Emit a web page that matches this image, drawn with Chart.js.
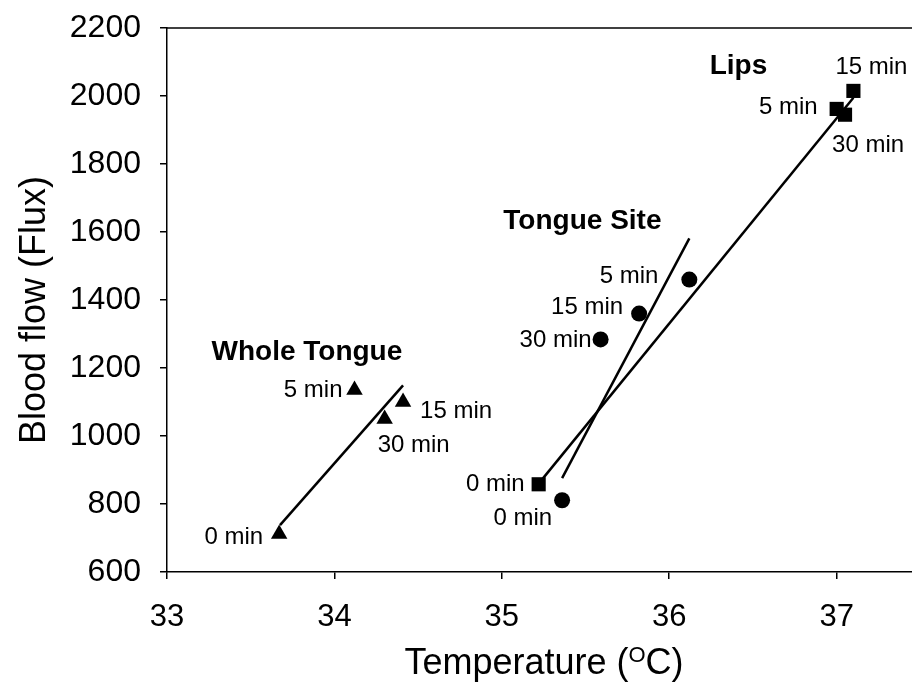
<!DOCTYPE html>
<html>
<head>
<meta charset="utf-8">
<script src="https://cdn.jsdelivr.net/npm/chart.js@4"></script>
<style>
    html, body { margin: 0; padding: 0; background: #fff; }
    #wrap { width: 912px; height: 688px; }
</style>
</head>
<body>
<div id="wrap"><canvas id="flowChart" width="912" height="688"></canvas></div>
<script>
// Data
const timeLabels = ['0 min', '5 min', '15 min', '30 min'];

const wholeTongueTemp = [33.67, 34.12, 34.41, 34.30];
const wholeTongueFlow = [712, 1135, 1100, 1050];

const tongueSiteTemp = [35.36, 36.12, 35.82, 35.59];
const tongueSiteFlow = [811, 1460, 1360, 1284];

const lipsTemp = [35.22, 37.00, 37.10, 37.05];
const lipsFlow = [858, 1962, 2015, 1945];

// fitted lines (end points)
const wholeTongueFitTemp = [33.675, 34.41];
const wholeTongueFitFlow = [738, 1149];
const tongueSiteFitTemp = [35.36, 36.12];
const tongueSiteFitFlow = [876, 1581];
const lipsFitTemp = [35.22, 37.10];
const lipsFitFlow = [860, 1995];

const groupNames = ['Whole Tongue', 'Tongue Site', 'Lips'];
const xTicks = [33, 34, 35, 36, 37];
const yTicks = [600, 800, 1000, 1200, 1400, 1600, 1800, 2000, 2200];

const FONT = 'Liberation Sans, Arial, sans-serif';

function toPoints(xs, ys) {
    return xs.map((x, i) => ({ x: x, y: ys[i] }));
}

// label placement: [align, dx, dy] relative to the point
const noteSpots = [
    [['right', -16, 10], ['right', -12, 7], ['left', 17, 16], ['left', -7, 33]],
    [['right', -10, 25], ['right', -31, 3], ['right', -16, 0], ['right', -9, 8]],
    [['right', -14, 7], ['right', -19, 5], ['left', -18, -17], ['left', -13, 37]]
];
// group title anchored to the 5 min point of each group
const titleSpots = [[-143, -30], [-186, -51], [-127, -35]];

const notesPlugin = {
    id: 'notes',
    afterDatasetsDraw(chart) {
        const ctx = chart.ctx;
        const area = chart.chartArea;
        ctx.save();
        ctx.fillStyle = '#000';

        // top frame line
        ctx.strokeStyle = '#000';
        ctx.lineWidth = 1.5;
        ctx.beginPath();
        ctx.moveTo(area.left, area.top);
        ctx.lineTo(chart.width, area.top);
        ctx.stroke();

        ctx.textBaseline = 'alphabetic';
        for (let d = 0; d < 3; d++) {
            const meta = chart.getDatasetMeta(d);
            ctx.font = '24px ' + FONT;
            meta.data.forEach((pt, i) => {
                const s = noteSpots[d][i];
                ctx.textAlign = s[0];
                ctx.fillText(timeLabels[i], pt.x + s[1], pt.y + s[2]);
            });
            const ref = meta.data[1];
            ctx.font = 'bold 28px ' + FONT;
            ctx.textAlign = 'left';
            ctx.fillText(groupNames[d], ref.x + titleSpots[d][0], ref.y + titleSpots[d][1]);
        }

        // axis titles
        ctx.font = '36px ' + FONT;
        ctx.save();
        ctx.translate(45, 310);
        ctx.rotate(-Math.PI / 2);
        ctx.textAlign = 'center';
        ctx.fillText('Blood flow (Flux)', 0, 0);
        ctx.restore();

        const a = 'Temperature (', sup = 'O', b = 'C)';
        const wa = ctx.measureText(a).width;
        const wb = ctx.measureText(b).width;
        ctx.font = '22px ' + FONT;
        const ws = ctx.measureText(sup).width;
        let x = 544 - (wa + ws + wb) / 2;
        const base = 674;
        ctx.textAlign = 'left';
        ctx.font = '36px ' + FONT;
        ctx.fillText(a, x, base);
        x += wa;
        ctx.font = '22px ' + FONT;
        ctx.fillText(sup, x, base - 12);
        x += ws;
        ctx.font = '36px ' + FONT;
        ctx.fillText(b, x, base);
        ctx.restore();
    }
};

function markSet(label, xs, ys, style, radius) {
    return {
        label: label,
        data: toPoints(xs, ys),
        pointStyle: style,
        pointRadius: radius,
        pointBackgroundColor: '#000',
        pointBorderColor: '#000',
        pointBorderWidth: 0,
        showLine: false
    };
}

function fitSet(label, xs, ys) {
    return {
        label: label,
        data: toPoints(xs, ys),
        showLine: true,
        borderColor: '#000',
        borderWidth: 2.5,
        pointRadius: 0,
        fill: false
    };
}

const ctx = document.getElementById('flowChart').getContext('2d');
new Chart(ctx, {
    type: 'scatter',
    data: {
        datasets: [
            markSet('Whole Tongue', wholeTongueTemp, wholeTongueFlow, 'triangle', 9.5),
            markSet('Tongue Site', tongueSiteTemp, tongueSiteFlow, 'circle', 8),
            markSet('Lips', lipsTemp, lipsFlow, 'rect', 10),
            fitSet('Whole Tongue fit', wholeTongueFitTemp, wholeTongueFitFlow),
            fitSet('Tongue Site fit', tongueSiteFitTemp, tongueSiteFitFlow),
            fitSet('Lips fit', lipsFitTemp, lipsFitFlow)
        ]
    },
    options: {
        responsive: false,
        animation: false,
        layout: { autoPadding: false, padding: { top: 28, right: 0, bottom: 0, left: 0 } },
        plugins: {
            legend: { display: false },
            tooltip: { enabled: false },
            title: { display: false }
        },
        scales: {
            x: {
                type: 'linear',
                min: 33,
                max: 37.45,
                afterBuildTicks: s => { s.ticks = xTicks.map(v => ({ value: v })); },
                afterFit: s => { s.height = 116; s.paddingLeft = 0; s.paddingRight = 0; },
                grid: { drawOnChartArea: false, tickLength: 7, color: '#000', lineWidth: 1.5 },
                border: { color: '#000', width: 1.5 },
                ticks: { color: '#000', padding: 20, maxRotation: 0, font: { family: FONT, size: 31 } }
            },
            y: {
                type: 'linear',
                min: 600,
                max: 2200,
                afterBuildTicks: s => { s.ticks = yTicks.map(v => ({ value: v })); },
                afterFit: s => { s.width = 167; s.paddingTop = 0; s.paddingBottom = 0; },
                grid: { drawOnChartArea: false, tickLength: 7, color: '#000', lineWidth: 1.5 },
                border: { color: '#000', width: 1.5 },
                ticks: { color: '#000', padding: 19, font: { family: FONT, size: 32 }, callback: v => String(v) }
            }
        }
    },
    plugins: [notesPlugin]
});
</script>
</body>
</html>
